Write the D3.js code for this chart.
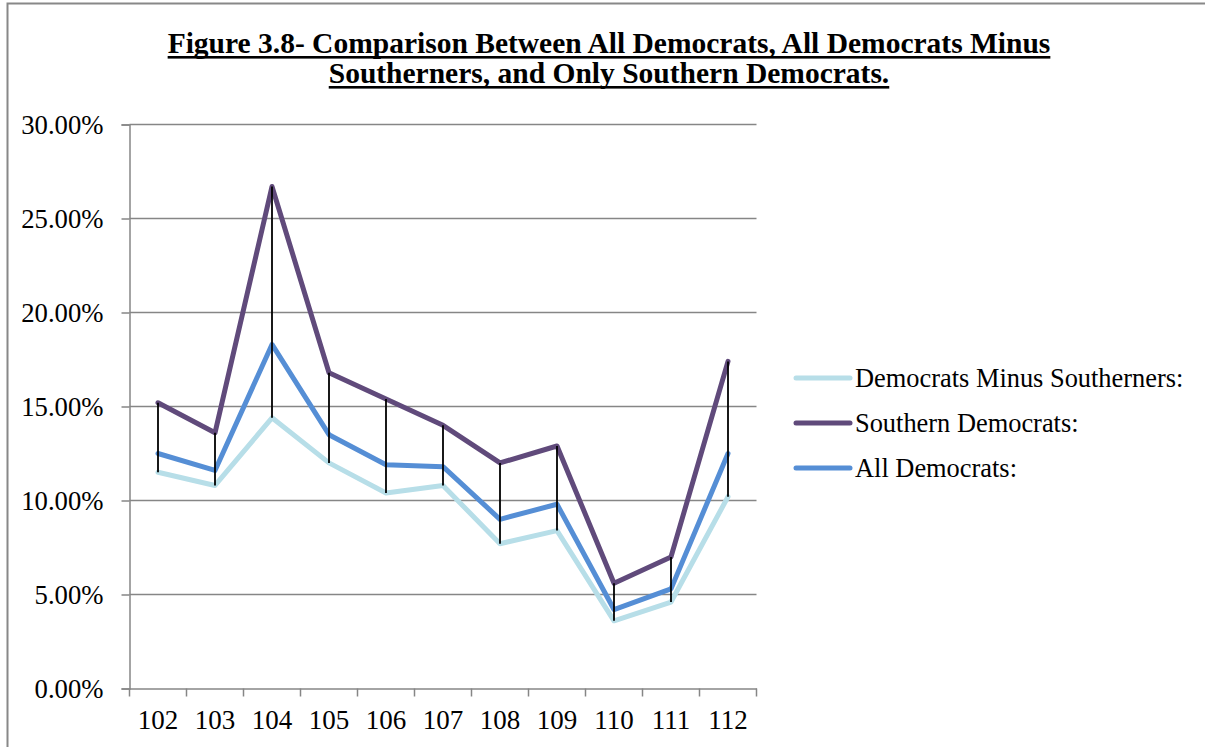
<!DOCTYPE html>
<html><head><meta charset="utf-8">
<script src="https://cdn.jsdelivr.net/npm/d3@7"></script>
<style>body{margin:0;background:#fff}svg{display:block}text{font-family:"Liberation Serif","Times New Roman",serif}</style>
</head><body><svg id="c" width="1205" height="747"></svg>
<script>
const categories = ["102","103","104","105","106","107","108","109","110","111","112"];
const minusSouth = [11.5,10.8,14.4,12.0,10.4,10.8,7.7,8.4,3.6,4.6,10.2];
const southern   = [15.2,13.6,26.7,16.8,15.4,14.0,12.0,12.9,5.6,7.0,17.4];
const allDems    = [12.5,11.6,18.3,13.5,11.9,11.8,9.0,9.8,4.2,5.3,12.5];
const yTicks = [0,5,10,15,20,25,30];
const seriesNames = ["Democrats Minus Southerners:","Southern Democrats:","All Democrats:"];
const seriesColors = ["#B7DEE8","#604A7B","#558ED5"];
const titleLines = ["Figure 3.8- Comparison Between All Democrats, All Democrats Minus","Southerners, and Only Southern Democrats."];

const svg = d3.select("#c");
// outer frame
svg.append("rect").attr("x",7.5).attr("y",3.5).attr("width",1205).attr("height",760)
  .attr("fill","none").attr("stroke","#888").attr("stroke-width",2);

const L=129.5, R=756.5, T=124.5, B=688.5;
const x = d3.scaleBand().domain(categories).range([L,R]);
const y = d3.scaleLinear().domain([0,30]).range([B,T]);

// gridlines
svg.append("g").selectAll("line").data(yTicks.slice(1)).join("line")
  .attr("x1",L).attr("x2",R).attr("y1",d=>y(d)).attr("y2",d=>y(d))
  .attr("stroke","#868686").attr("stroke-width",1.5);

// y axis
const ya = svg.append("g").attr("transform",`translate(${L},0)`)
  .call(d3.axisLeft(y).tickValues(yTicks).tickSize(8).tickPadding(18).tickFormat(d=>d.toFixed(2)+"%"));
ya.select(".domain").attr("stroke","#868686").attr("stroke-width",1.5);
ya.selectAll(".tick line").attr("stroke","#868686").attr("stroke-width",1.5);
ya.selectAll("text").attr("font-size",26.7).attr("fill","#000").attr("font-family","Liberation Serif").attr("dy","0.33em");

// x axis
const xa = svg.append("g").attr("transform",`translate(0,${B})`)
  .call(d3.axisBottom(x).tickSize(0).tickPadding(21));
xa.select(".domain").attr("stroke","#868686").attr("stroke-width",1.5);
xa.selectAll("text").attr("font-size",27).attr("fill","#000").attr("font-family","Liberation Serif");
const bounds = categories.map(c=>x(c)).concat([R]);
xa.selectAll("line.bt").data(bounds).join("line").attr("class","bt")
  .attr("x1",d=>d).attr("x2",d=>d).attr("y1",0).attr("y2",8)
  .attr("stroke","#868686").attr("stroke-width",1.5);

// lines
const cx = c => x(c)+x.bandwidth()/2;
const line = d3.line().x((d,i)=>cx(categories[i])).y(d=>y(d));
[minusSouth,southern,allDems].forEach((s,k)=>{
  svg.append("path").datum(s).attr("d",line).attr("fill","none")
    .attr("stroke",seriesColors[k]).attr("stroke-width",5).attr("stroke-linejoin","round").attr("stroke-linecap","round");
});

// high-low lines
svg.append("g").selectAll("line").data(categories).join("line")
  .attr("x1",c=>cx(c)).attr("x2",c=>cx(c))
  .attr("y1",(c,i)=>y(Math.max(minusSouth[i],southern[i],allDems[i])))
  .attr("y2",(c,i)=>y(Math.min(minusSouth[i],southern[i],allDems[i])))
  .attr("stroke","#000").attr("stroke-width",1.8);

// title with solid underline
const tg = svg.append("g");
titleLines.forEach((t,i)=>{
  const by = 53+i*30;
  const tx = tg.append("text").attr("x",609).attr("y",by).attr("text-anchor","middle")
    .attr("font-size",29.5).attr("font-weight","bold").text(t);
  const bb = tx.node().getBBox();
  tg.append("rect").attr("x",bb.x).attr("y",by+3).attr("width",bb.width).attr("height",2.6).attr("fill","#000");
});

// legend
const lg = svg.append("g").selectAll("g").data(seriesNames).join("g")
  .attr("transform",(d,i)=>`translate(796,${378+i*45})`);
lg.append("line").attr("x1",0).attr("x2",54).attr("stroke",(d,i)=>seriesColors[i])
  .attr("stroke-width",5).attr("stroke-linecap","round");
lg.append("text").attr("x",59).attr("dy","0.33em").attr("font-size",26.4).text(d=>d);
</script></body></html>
